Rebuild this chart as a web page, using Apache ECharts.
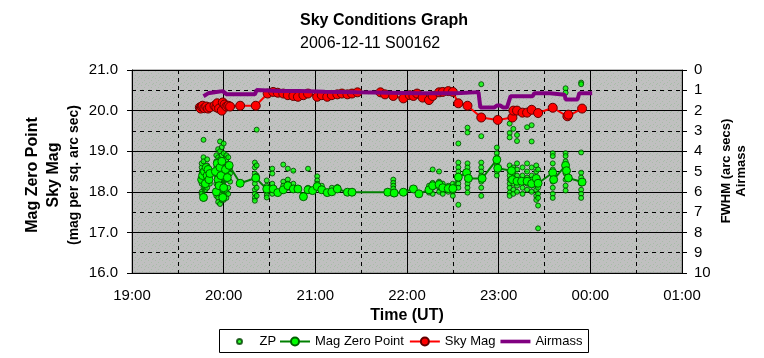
<!DOCTYPE html>
<html><head><meta charset="utf-8">
<script src="https://cdn.jsdelivr.net/npm/echarts@6/dist/echarts.min.js"></script>
<style>html,body{margin:0;padding:0;background:#fff}#c{width:764px;height:358px}</style>
</head><body><div id="c"></div>
<script>
// ---- data (time in decimal hours UT; 24 = 00:00 next day) ----
const xTicks = [19, 20, 21, 22, 23, 24, 25];
const magTicks = [16, 17, 18, 19, 20, 21];
const airTicks = [0,1,2,3,4,5,6,7,8,9,10];

// ZP individual measurements, grouped by time column: [time, [mags...]]
const zpColumns = [
  [19.76,[18.2,18.35,18.5,18.6,18.7,18.0,17.95]],
  [19.78,[19.28,18.85,18.75,18.4,18.1,17.9,17.83]],
  [19.80,[18.6,18.45,18.3,18.15,18.05]],
  [19.82,[18.8,18.65,18.5,18.35,18.25,18.1]],
  [19.85,[18.5,18.3,18.2]],
  [19.92,[18.9,18.75,18.6,18.4,18.2,18.0,17.9]],
  [19.94,[19.05,18.85,18.5,18.25,18.1,17.85,17.75]],
  [19.96,[19.24,19.0,18.8,18.65,18.3,18.15,17.95,17.7]],
  [19.98,[19.1,18.9,18.7,18.45,18.2,18.05,17.8]],
  [20.00,[19.19,18.95,18.6,18.35,18.25,17.9,17.8]],
  [20.03,[18.9,18.8,18.5,18.3,18.0,17.85]],
  [20.05,[18.85,18.55,18.4,18.1,17.95]],
  [20.07,[18.6,18.45,18.25]],
  [20.34,[18.72,18.6,18.45,18.3,18.2,18.05,17.95,17.85,17.78]],
  [20.36,[19.53,18.65,18.4,18.1,17.9]],
  [20.47,[18.28,18.15,18.0,17.92,17.86]],
  [20.53,[18.57,18.45,18.2,18.05,17.95]],
  [20.65,[18.67,18.25,18.15]],
  [20.70,[18.57,18.3,18.2,18.1]],
  [20.76,[18.52,18.2,18.1]],
  [20.92,[18.57,18.1]],
  [21.02,[18.38,18.28,18.2,18.1]],
  [21.07,[18.15,18.08]],
  [21.18,[18.1,18.02]],
  [21.24,[18.12]],
  [21.85,[18.3,18.22,18.15,18.08,17.95]],
  [22.24,[18.15,18.05,17.98]],
  [22.28,[18.55,18.22,18.1,17.95]],
  [22.35,[18.5,18.25,18.1,18.0]],
  [22.39,[18.2,18.05,17.95]],
  [22.45,[18.15,18.0]],
  [22.50,[18.2,18.0,17.9]],
  [22.56,[19.19,18.72,18.6,18.5,18.4,18.3,18.2,18.1,17.68]],
  [22.66,[19.58,19.46,18.7,18.6,18.45,18.3,18.2,18.1,17.98]],
  [22.81,[20.65,19.37,18.72,18.6,18.5,18.4,18.25,18.1,17.9]],
  [22.98,[19.09,18.95,18.85,18.7,18.6,18.5,18.4]],
  [23.12,[19.68,19.45,19.34,18.65,18.5,18.4,18.3,18.2,18.1,17.98,17.9]],
  [23.16,[19.55,18.6,18.45,18.35,18.2,18.05,17.95]],
  [23.20,[19.4,19.25,18.7,18.55,18.4,18.25,18.15,18.0]],
  [23.26,[18.6,18.4,18.25,18.1,17.95]],
  [23.31,[19.59,18.7,18.5,18.35,18.2,18.05]],
  [23.36,[19.64,19.24,18.6,18.4,18.3,18.15,18.0]],
  [23.41,[18.65,18.5,18.35,18.2,18.05,17.9,17.8]],
  [23.43,[18.55,18.3,18.1,17.95,17.85,17.66,17.1]],
  [23.59,[18.95,18.88,18.7,18.55,18.4,18.25,18.1,17.95,17.85]],
  [23.73,[20.55,20.44,18.95,18.88,18.75,18.6,18.45,18.3,18.15,18.03]],
  [23.90,[20.69,20.65,18.97,18.47,18.35,18.2,18.05,17.95,17.85]]
];

const magZeroPoint = [
  [19.76,18.3],[19.77,18.4],[19.78,17.86],[19.79,18.5],[19.80,18.2],[19.81,18.6],[19.82,18.4],[19.83,18.55],[19.84,18.3],[19.85,18.45],
  [19.91,18.5],[19.92,18.0],[19.93,18.7],[19.94,18.3],[19.95,18.15],[19.96,18.6],[19.97,18.4],[19.98,18.75],[19.99,17.86],[20.00,18.1],[20.02,18.55],[20.04,18.35],[20.06,18.65],
  [20.18,18.21],[20.35,18.34],[20.47,18.07],[20.54,18.07],[20.59,17.98],[20.65,18.05],[20.70,18.15],[20.76,18.07],[20.81,18.07],[20.87,17.88],[20.92,18.05],[20.97,18.03],[21.02,18.13],[21.07,18.05],[21.13,17.98],[21.18,18.0],[21.24,18.07],[21.35,17.99],[21.40,17.99],
  [21.79,17.99],[21.86,17.97],[21.96,17.99],[22.07,18.07],[22.13,17.95],[22.24,18.05],[22.28,18.15],[22.35,18.18],[22.39,18.1],[22.45,18.08],[22.50,18.08],
  [22.56,18.36],[22.65,18.47],[22.67,18.33],[22.82,18.33],[22.98,18.79],[22.99,18.58],[23.14,18.52],[23.15,18.3],[23.20,18.26],[23.25,18.26],[23.31,18.26],[23.36,18.2],[23.41,18.33],[23.43,18.21],
  [23.59,18.47],[23.60,18.3],[23.73,18.65],[23.74,18.52],[23.76,18.34],[23.91,18.24]
];

const skyMag = [
  [19.74,20.08],[19.75,20.05],[19.76,20.1],[19.77,20.12],[19.79,20.06],[19.81,20.1],[19.83,20.05],[19.85,20.08],
  [19.90,20.12],[19.92,20.08],[19.93,20.18],[19.95,20.05],[19.98,20.0],[19.99,20.2],[20.01,20.15],[20.03,20.1],[20.05,20.12],[20.07,20.1],
  [20.18,20.12],[20.35,20.12],[20.48,20.42],[20.54,20.46],[20.59,20.44],[20.65,20.42],[20.70,20.38],[20.76,20.36],[20.81,20.34],[20.87,20.38],[20.92,20.42],
  [21.02,20.34],[21.07,20.38],[21.13,20.34],[21.18,20.38],[21.24,20.4],[21.29,20.42],[21.35,20.4],[21.40,20.42],[21.46,20.45],[21.71,20.45],[21.76,20.4],
  [21.85,20.36],[21.96,20.3],[22.03,20.38],[22.07,20.36],[22.11,20.42],[22.17,20.32],[22.24,20.26],[22.28,20.36],[22.35,20.45],[22.39,20.46],[22.45,20.48],[22.50,20.46],
  [22.56,20.18],[22.66,20.12],[22.81,19.83],[22.99,19.77],[23.15,19.83],[23.16,20.0],[23.20,20.0],[23.26,19.95],[23.31,19.95],[23.36,20.02],[23.43,19.94],
  [23.59,20.07],[23.75,19.86],[23.76,19.9],[23.91,20.05]
];

const airmass = [
  [19.78,1.29],[19.83,1.15],[19.90,1.1],[19.99,1.04],[20.03,1.19],[20.34,1.2],[20.36,0.99],[20.6,1.04],[20.83,1.04],[21.1,1.07],[21.45,1.1],[21.8,1.12],
  [22.14,1.15],[22.54,1.15],[22.55,1.09],[22.78,1.09],[22.80,1.85],[22.95,1.85],[22.98,1.75],[23.02,1.75],[23.05,1.85],[23.09,1.85],[23.13,1.29],
  [23.37,1.29],[23.39,1.14],[23.56,1.14],[23.58,1.22],[23.72,1.22],[23.73,1.45],[23.86,1.45],[23.88,1.14],[24.02,1.14]
];

// ---- chart ----
const zpPoints = [];
zpColumns.forEach(c => c[1].forEach(m => zpPoints.push([c[0], m])));

// speckled grey plot-area texture
const tile = document.createElement('canvas');
tile.width = 7; tile.height = 7;
const tc = tile.getContext('2d');
tc.fillStyle = '#c0c0c0'; tc.fillRect(0, 0, 7, 7);
tc.fillStyle = '#a8bca8';
[[1,1],[4,3],[2,5],[6,6],[5,0]].forEach(p => tc.fillRect(p[0], p[1], 1, 1));

const FONT = '"Liberation Sans", Arial, sans-serif';
const chart = echarts.init(document.getElementById('c'), null, {renderer: 'canvas'});
const fmtTime = v => String(Math.round(v) % 24).padStart(2, '0') + ':00';

chart.setOption({
  animation: false,
  backgroundColor: '#ffffff',
  textStyle: {fontFamily: FONT, color: '#000'},
  title: [
    {text: 'Sky Conditions Graph', left: 300, top: 13, padding: 0,
     textStyle: {fontFamily: FONT, fontSize: 16, fontWeight: 'bold', color: '#000'}},
    {text: '2006-12-11 S00162', left: 300, top: 36, padding: 0,
     textStyle: {fontFamily: FONT, fontSize: 16, fontWeight: 'normal', color: '#000'}}
  ],
  grid: {left: 132, right: 82, top: 70, bottom: 85, show: true,
         backgroundColor: {image: tile, repeat: 'repeat'}, borderColor: '#808080', borderWidth: 1},
  xAxis: {
    type: 'value', min: xTicks[0], max: xTicks[xTicks.length - 1], interval: 1,
    axisLine: {lineStyle: {color: '#000', width: 1}},
    axisTick: {length: 5, lineStyle: {color: '#000'}},
    minorTick: {show: true, splitNumber: 2, length: 0},
    axisLabel: {formatter: fmtTime, fontSize: 15, color: '#000', margin: 15, fontFamily: FONT},
    splitLine: {show: true, lineStyle: {color: '#000', width: 1}},
    minorSplitLine: {show: true, lineStyle: {color: '#000', width: 1, type: [4, 4]}},
    name: 'Time (UT)', nameLocation: 'middle', nameGap: 33,
    nameTextStyle: {fontSize: 16, fontWeight: 'bold', color: '#000', fontFamily: FONT}
  },
  yAxis: [
    {type: 'value', min: magTicks[0], max: magTicks[magTicks.length - 1], interval: 1,
     axisLine: {show: true, lineStyle: {color: '#000'}},
     axisTick: {show: true, length: 5, lineStyle: {color: '#000'}},
     minorTick: {show: true, splitNumber: 2, length: 0},
     axisLabel: {formatter: v => v.toFixed(1), fontSize: 15, color: '#000', margin: 14, fontFamily: FONT},
     splitLine: {show: true, lineStyle: {color: '#000', width: 1}},
     minorSplitLine: {show: true, lineStyle: {color: '#000', width: 1, type: [4, 4]}}},
    {type: 'value', min: airTicks[0], max: airTicks[airTicks.length - 1], interval: 1, inverse: true, position: 'right',
     axisLine: {show: true, lineStyle: {color: '#000'}},
     axisTick: {show: true, length: 5, lineStyle: {color: '#000'}},
     axisLabel: {fontSize: 15, color: '#000', margin: 12, fontFamily: FONT},
     splitLine: {show: false}}
  ],
  legend: [
    {data: ['ZP'], left: 236, top: 335, padding: 0, itemWidth: 30, itemHeight: 5, itemGap: 4,
     textStyle: {fontSize: 13, color: '#000', fontFamily: FONT}},
    {data: ['Mag Zero Point', 'Sky Mag', {name: 'Airmass', icon: 'path://M0,0H33V4H0Z'}],
     left: 279, top: 335, padding: 0, itemWidth: 30, itemHeight: 10, itemGap: 5,
     textStyle: {fontSize: 13, color: '#000', fontFamily: FONT}}
  ],
  graphic: [
    {type: 'rect', shape: {x: 219.5, y: 329.5, width: 369, height: 23}, style: {fill: null, stroke: '#000', lineWidth: 1}, z: -1},
    {type: 'text', x: 33, y: 175, rotation: Math.PI / 2,
     style: {text: 'Mag Zero Point', font: 'bold 16px ' + FONT, fill: '#000', textAlign: 'center', textVerticalAlign: 'middle'}},
    {type: 'text', x: 54, y: 175, rotation: Math.PI / 2,
     style: {text: 'Sky Mag', font: 'bold 16px ' + FONT, fill: '#000', textAlign: 'center', textVerticalAlign: 'middle'}},
    {type: 'text', x: 74, y: 175, rotation: Math.PI / 2,
     style: {text: '(mag per sq. arc sec)', font: 'bold 14px ' + FONT, fill: '#000', textAlign: 'center', textVerticalAlign: 'middle'}},
    {type: 'text', x: 726, y: 171, rotation: Math.PI / 2,
     style: {text: 'FWHM (arc secs)', font: 'bold 13px ' + FONT, fill: '#000', textAlign: 'center', textVerticalAlign: 'middle'}},
    {type: 'text', x: 741, y: 171, rotation: Math.PI / 2,
     style: {text: 'Airmass', font: 'bold 13px ' + FONT, fill: '#000', textAlign: 'center', textVerticalAlign: 'middle'}}
  ],
  series: [
    {name: 'ZP', type: 'scatter', yAxisIndex: 0, data: zpPoints, symbol: 'circle', symbolSize: 5,
     itemStyle: {color: '#00ff00', borderColor: '#004000', borderWidth: 1}, z: 2},
    {name: 'Mag Zero Point', type: 'line', yAxisIndex: 0, data: magZeroPoint, symbol: 'circle', symbolSize: 8,
     showAllSymbol: true,
     lineStyle: {color: '#008000', width: 2}, itemStyle: {color: '#00ff00', borderColor: '#006000', borderWidth: 1}, z: 3},
    {name: 'Sky Mag', type: 'line', yAxisIndex: 0, data: skyMag, symbol: 'circle', symbolSize: 9,
     showAllSymbol: true,
     lineStyle: {color: '#ff0000', width: 2}, itemStyle: {color: '#ff0000', borderColor: '#600000', borderWidth: 1}, z: 4},
    {name: 'Airmass', type: 'line', yAxisIndex: 1, data: airmass, symbol: 'none', showSymbol: false,
     lineStyle: {color: '#800080', width: 4}, itemStyle: {color: '#800080'}, z: 5}
  ]
});
</script></body></html>
